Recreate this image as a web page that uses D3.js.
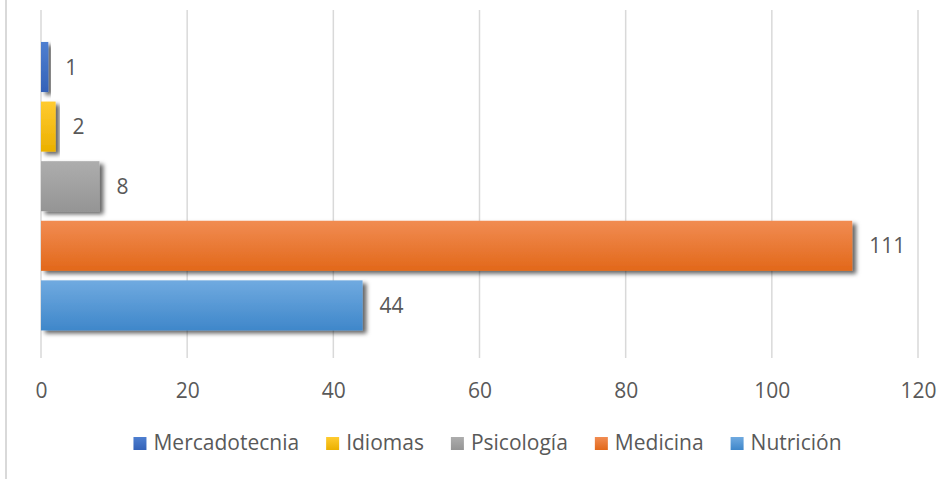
<!DOCTYPE html>
<html>
<head>
<meta charset="utf-8">
<script src="https://cdn.jsdelivr.net/npm/d3@7"></script>
<style>
  html, body { margin: 0; padding: 0; background: #fff; }
  svg { display: block; }
  text { font-family: "Open Sans", "Noto Sans", sans-serif; fill: #595959; }
</style>
</head>
<body>
<svg id="chart" width="942" height="479"></svg>
<script>
const categories = ["Mercadotecnia", "Idiomas", "Psicología", "Medicina", "Nutrición"];
const values = [1, 2, 8, 111, 44];
const tickValues = [0, 20, 40, 60, 80, 100, 120];
const colorsTop = ["#4E7FD0", "#FFCB30", "#ADADAD", "#F18C52", "#70AAE0"];
const colorsBottom = ["#3462B8", "#EBB000", "#959595", "#E2681A", "#3F87CA"];

const W = 942, H = 479;
const svg = d3.select("#chart");
const defs = svg.append("defs");

categories.forEach((c, i) => {
  const g = defs.append("linearGradient").attr("id", "grad" + i)
    .attr("x1", 0).attr("y1", 0).attr("x2", 0).attr("y2", 1);
  g.append("stop").attr("offset", "0%").attr("stop-color", colorsTop[i]);
  g.append("stop").attr("offset", "100%").attr("stop-color", colorsBottom[i]);
});

const f = defs.append("filter").attr("id", "shadow")
  .attr("x", "-5%").attr("y", "-20%").attr("width", "130%").attr("height", "160%");
f.append("feDropShadow").attr("dx", 4).attr("dy", 3).attr("stdDeviation", 2)
  .attr("flood-color", "#000").attr("flood-opacity", 0.6);

// chart border (left edge visible)
svg.append("line").attr("x1", 6).attr("x2", 6).attr("y1", 0).attr("y2", H)
  .attr("stroke", "#d9d9d9").attr("stroke-width", 2);

const x = d3.scaleLinear().domain([0, 120]).range([41, 918]);
const y = d3.scaleBand().domain(categories).range([37.2, 335.2])
  .paddingInner(0.16).paddingOuter(0.08);

const plotTop = 10, plotBottom = 358;

// gridlines
svg.append("g").selectAll("line").data(tickValues).join("line")
  .attr("x1", d => x(d)).attr("x2", d => x(d))
  .attr("y1", plotTop).attr("y2", plotBottom)
  .attr("stroke", "#d9d9d9").attr("stroke-width", 1.5);

// axis tick labels
const axis = d3.axisBottom(x).tickValues(tickValues).tickSize(0).tickPadding(0);
const axG = svg.append("g").attr("transform", `translate(0,${plotBottom})`).call(axis);
axG.select(".domain").remove();
axG.selectAll("text").attr("y", 40).attr("dy", null)
  .style("font-size", "21px").style("font-family", '"Open Sans", sans-serif')
  .attr("fill", "#595959");

// bars
svg.append("g").selectAll("rect").data(categories).join("rect")
  .attr("x", x(0))
  .attr("y", d => y(d))
  .attr("width", (d, i) => x(values[i]) - x(0))
  .attr("height", y.bandwidth())
  .attr("fill", (d, i) => `url(#grad${i})`)
  .attr("filter", "url(#shadow)");

// value labels
svg.append("g").selectAll("text").data(categories).join("text")
  .attr("x", (d, i) => x(values[i]) + 17)
  .attr("y", d => y(d) + y.bandwidth() / 2)
  .attr("dy", "0.36em")
  .style("font-size", "21px")
  .text((d, i) => values[i]);

// legend
const legend = svg.append("g");
const items = legend.selectAll("g").data(categories).join("g");
items.append("rect").attr("width", 13).attr("height", 13).attr("y", -13)
  .attr("fill", (d, i) => `url(#grad${i})`);
items.append("text").attr("x", 20).attr("y", 0).style("font-size", "21px").text(d => d);
const widths = [];
items.each(function () {
  widths.push(this.querySelector("text").getComputedTextLength() + 20);
});
const gap = 27;
const total = d3.sum(widths) + gap * (widths.length - 1);
let start = 487.5 - total / 2;
items.attr("transform", (d, i) => {
  const t = `translate(${start},450)`;
  start += widths[i] + gap;
  return t;
});
</script>
</body>
</html>
